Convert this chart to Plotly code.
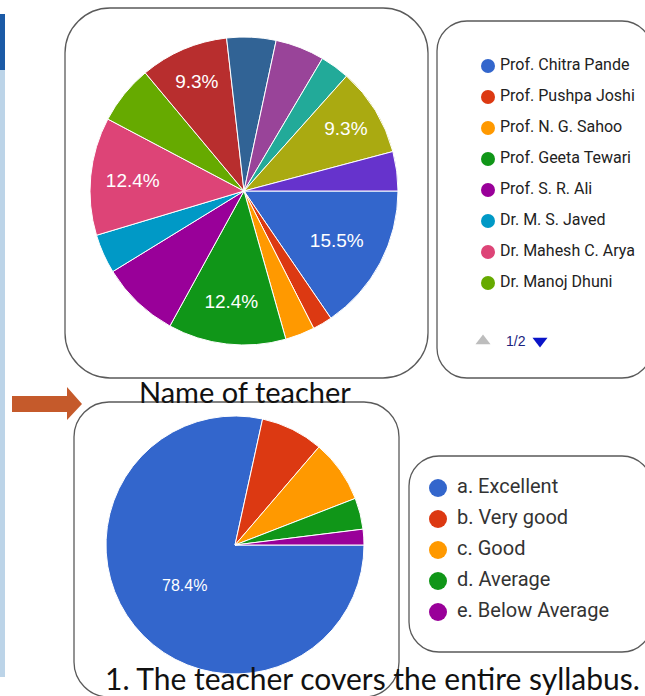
import plotly.graph_objects as go

W, H = 645, 696

# ---------------- data ----------------
teachers = [
    "Prof. Chitra Pande", "Prof. Pushpa Joshi", "Prof. N. G. Sahoo",
    "Prof. Geeta Tewari", "Prof. S. R. Ali", "Dr. M. S. Javed",
    "Dr. Mahesh C. Arya", "Dr. Manoj Dhuni",
    "Teacher 9", "Teacher 10", "Teacher 11", "Teacher 12", "Teacher 13", "Teacher 14",
]
teacher_votes = [15, 2, 3, 12, 8, 4, 12, 6, 9, 5, 5, 3, 9, 4]
teacher_colors = [
    "#3366cc", "#dc3912", "#ff9900", "#109618", "#990099", "#0099c6",
    "#dd4477", "#66aa00", "#b82e2e", "#316395", "#994499", "#22aa99",
    "#aaaa11", "#6633cc",
]
legend_page_size = 8
legend_page_label = "1/2"

ratings = ["a. Excellent", "b. Very good", "c. Good", "d. Average", "e. Below Average"]
rating_votes = [40, 4, 4, 2, 1]
rating_colors = ["#3366cc", "#dc3912", "#ff9900", "#109618", "#990099"]

top_title = "Name of teacher"
bottom_title = "1. The teacher covers the entire syllabus."


def pct_labels(values, threshold):
    tot = sum(values)
    return [f"{v / tot * 100:.1f}%" if v / tot * 100 >= threshold else "" for v in values]


def px_domain(cx, cy, r):
    return dict(x=[(cx - r) / W, (cx + r) / W], y=[1 - (cy + r) / H, 1 - (cy - r) / H])


def rrect(x0, y0, x1, y1, r):
    k = 0.45 * r
    return (f"M {x0 + r},{y0} L {x1 - r},{y0} C {x1 - k},{y0} {x1},{y0 + k} {x1},{y0 + r} "
            f"L {x1},{y1 - r} C {x1},{y1 - k} {x1 - k},{y1} {x1 - r},{y1} "
            f"L {x0 + r},{y1} C {x0 + k},{y1} {x0},{y1 - k} {x0},{y1 - r} "
            f"L {x0},{y0 + r} C {x0},{y0 + k} {x0 + k},{y0} {x0 + r},{y0} Z")


FONT = "Liberation Sans, Arial, sans-serif"
LEG_FONT = "Roboto, Arial, sans-serif"
TITLE_FONT = "Lato, sans-serif"

fig = go.Figure()

# ---- top pie ----
fig.add_trace(go.Pie(
    labels=teachers, values=teacher_votes, sort=False, direction="clockwise", rotation=90,
    marker=dict(colors=teacher_colors, line=dict(color="white", width=1)),
    text=pct_labels(teacher_votes, 9), textinfo="text", textposition="inside",
    insidetextorientation="horizontal",
    insidetextfont=dict(family=FONT, size=19, color="white"),
    domain=px_domain(244, 191, 154), showlegend=False, hoverinfo="label+percent",
))

# ---- bottom pie ----
fig.add_trace(go.Pie(
    labels=ratings, values=rating_votes, sort=False, direction="clockwise", rotation=90,
    marker=dict(colors=rating_colors, line=dict(color="white", width=1)),
    text=pct_labels(rating_votes, 50), textinfo="text", textposition="inside",
    insidetextorientation="horizontal",
    insidetextfont=dict(family=FONT, size=16, color="white"),
    domain=px_domain(235, 545, 129), showlegend=False, hoverinfo="label+percent",
))

# ---- top legend (first page) ----
n_top = legend_page_size
top_rows = [66 + 31 * i for i in range(n_top)]
fig.add_trace(go.Scatter(
    x=[488] * n_top, y=top_rows, mode="markers",
    marker=dict(size=14, color=teacher_colors[:n_top]),
    hoverinfo="skip", cliponaxis=False,
))
fig.add_trace(go.Scatter(
    x=[500] * n_top, y=top_rows, mode="text", text=teachers[:n_top], textposition="middle right",
    textfont=dict(family=LEG_FONT, size=16, color="#222222"),
    hoverinfo="skip", cliponaxis=False,
))
# pager
fig.add_trace(go.Scatter(
    x=[483, 540], y=[341, 341], mode="markers",
    marker=dict(symbol=["triangle-up", "triangle-down"], size=13, color=["#bdbdbd", "#0a14c8"]),
    hoverinfo="skip", cliponaxis=False,
))

# ---- bottom legend ----
bot_rows = [488 + 31 * i for i in range(len(ratings))]
fig.add_trace(go.Scatter(
    x=[438] * len(ratings), y=bot_rows, mode="markers",
    marker=dict(size=18, color=rating_colors),
    hoverinfo="skip", cliponaxis=False,
))
fig.add_trace(go.Scatter(
    x=[457] * len(ratings), y=bot_rows, mode="text", text=ratings, textposition="middle right",
    textfont=dict(family=LEG_FONT, size=20, color="#333333"),
    hoverinfo="skip", cliponaxis=False,
))

box_line = dict(color="#5a5a5a", width=1.3)
shapes = [
    # left slide bar
    dict(type="rect", x0=0, x1=5, y0=70, y1=677, fillcolor="#bcd4e8", line=dict(width=0), layer="below"),
    dict(type="rect", x0=0, x1=5, y0=14, y1=70, fillcolor="#1b5aa6", line=dict(width=0), layer="below"),
    # boxes
    dict(type="path", path=rrect(65, 8, 428, 378, 45), line=box_line, layer="below"),
    dict(type="path", path=rrect(437, 21, 652, 378, 30), line=box_line, layer="below"),
    dict(type="path", path=rrect(74, 402, 399, 697, 35), line=box_line, layer="below"),
    dict(type="path", path=rrect(409, 456, 652, 652, 30), line=box_line, layer="below"),
    # arrow
    dict(type="path", path="M 12,396 L 67,396 L 67,387 L 82,404 L 67,420 L 67,412 L 12,412 Z",
         fillcolor="#c55a2b", line=dict(width=0), layer="above"),
]
for s in shapes:
    s.setdefault("xref", "x")
    s.setdefault("yref", "y")

annotations = [
    dict(x=245, y=391, text=top_title, showarrow=False, xanchor="center", yanchor="middle",
         font=dict(family=TITLE_FONT, size=29, color="#111111")),
    dict(x=103, y=678, text=bottom_title, showarrow=False, xanchor="left", yanchor="middle",
         font=dict(family=TITLE_FONT, size=30, color="#111111")),
    dict(x=504, y=341, text=legend_page_label, showarrow=False, xanchor="left", yanchor="middle",
         font=dict(family=FONT, size=14, color="#1a237e")),
]
for a in annotations:
    a["xref"] = "x"
    a["yref"] = "y"

fig.update_layout(
    width=W, height=H, margin=dict(l=0, r=0, t=0, b=0),
    paper_bgcolor="white", plot_bgcolor="white", showlegend=False,
    xaxis=dict(range=[0, W], visible=False, domain=[0, 1], fixedrange=True),
    yaxis=dict(range=[H, 0], visible=False, domain=[0, 1], fixedrange=True),
    shapes=shapes, annotations=annotations,
)

fig.write_html(
    "out.html",
    config={"displayModeBar": False},
    post_script="document.body.style.margin='0';document.body.style.overflow='hidden';",
)
